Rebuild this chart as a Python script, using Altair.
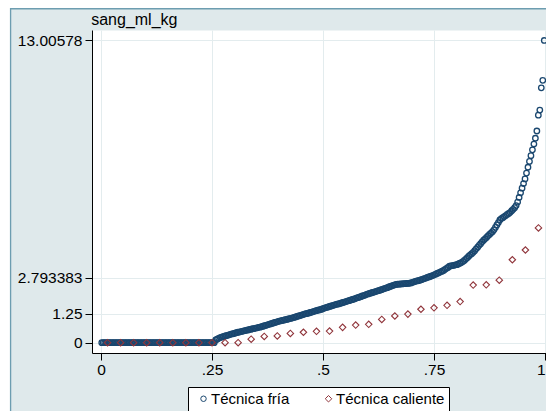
import altair as alt
import pandas as pd

# ---------------- data ----------------
grupos = ["Técnica fría", "Técnica caliente"]

# Técnica fría: 300 observations, the first 77 are zero
fria_ceros = 77
fria_valores = [
    0.12, 0.15, 0.19, 0.22, 0.24, 0.26, 0.28, 0.30, 0.32, 0.34,
    0.36, 0.38, 0.39, 0.41, 0.43, 0.45, 0.46, 0.48, 0.49, 0.51,
    0.52, 0.54, 0.55, 0.57, 0.58, 0.60, 0.61, 0.63, 0.64, 0.66,
    0.67, 0.69, 0.71, 0.73, 0.75, 0.77, 0.79, 0.81, 0.83, 0.85,
    0.87, 0.89, 0.91, 0.93, 0.94, 0.96, 0.97, 0.99, 1.00, 1.02,
    1.04, 1.05, 1.07, 1.09, 1.11, 1.13, 1.15, 1.17, 1.19, 1.21,
    1.23, 1.25, 1.26, 1.28, 1.30, 1.32, 1.34, 1.36, 1.38, 1.40,
    1.41, 1.43, 1.45, 1.48, 1.50, 1.52, 1.54, 1.56, 1.58, 1.60,
    1.62, 1.64, 1.66, 1.67, 1.69, 1.71, 1.73, 1.75, 1.77, 1.79,
    1.81, 1.83, 1.85, 1.87, 1.89, 1.92, 1.94, 1.96, 1.98, 2.01,
    2.03, 2.05, 2.08, 2.10, 2.12, 2.14, 2.16, 2.18, 2.20, 2.22,
    2.24, 2.26, 2.28, 2.31, 2.33, 2.35, 2.37, 2.40, 2.42, 2.45,
    2.47, 2.49, 2.51, 2.52, 2.52, 2.53, 2.53, 2.54, 2.54, 2.55,
    2.55, 2.56, 2.57, 2.60, 2.62, 2.64, 2.66, 2.67, 2.69, 2.71,
    2.74, 2.76, 2.78, 2.81, 2.83, 2.85, 2.88, 2.90, 2.93, 2.96,
    2.99, 3.02, 3.05, 3.08, 3.11, 3.16, 3.20, 3.24, 3.29, 3.31,
    3.32, 3.33, 3.35, 3.36, 3.39, 3.42, 3.45, 3.49, 3.54, 3.60,
    3.66, 3.72, 3.78, 3.83, 3.89, 3.96, 4.04, 4.11, 4.19, 4.26,
    4.34, 4.41, 4.47, 4.53, 4.60, 4.66, 4.72, 4.78, 4.86, 4.96,
    5.07, 5.17, 5.28, 5.34, 5.38, 5.43, 5.47, 5.52, 5.56, 5.61,
    5.68, 5.74, 5.81,
    5.90, 6.05, 6.25, 6.45, 6.65, 6.85, 7.05, 7.30, 7.55, 7.80,
    8.05, 8.30, 8.55, 8.80, 9.11, 9.79, 10.01, 10.97, 11.29, 13.00578,
]

# Técnica caliente: 34 observations, the first 11 are zero
caliente_ceros = 11
caliente_valores = [
    0.15, 0.27, 0.29, 0.40, 0.45, 0.49, 0.50, 0.66, 0.76, 0.79,
    1.00, 1.15, 1.23, 1.44, 1.50, 1.61, 1.77, 2.48, 2.49, 2.69,
    3.57, 3.99, 4.94,
]

y_ticks = [0, 1.25, 2.793383, 13.00578]
x_ticks = [0, 0.25, 0.5, 0.75, 1]
y_titulo = "sang_ml_kg"

# ---------------- styling ----------------
FONT = "Liberation Sans"
NAVY = "#1a476f"
MAROON = "#90353b"
BG = "#dfe9eb"
GRID = "#e3ecee"
BORDER = "#6d9db0"

df_fria = pd.DataFrame({"valor": [0.0] * fria_ceros + fria_valores, "grupo": grupos[0]})
df_cal = pd.DataFrame({"valor": [0.0] * caliente_ceros + caliente_valores, "grupo": grupos[1]})

x_scale = alt.Scale(domain=[-0.0203, 1.00225], nice=False, zero=False)
y_scale = alt.Scale(domain=[-0.443, 13.457], nice=False, zero=False)

x_axis = alt.Axis(
    values=x_ticks, title=None,
    labelExpr="datum.value == 0 ? '0' : datum.value == 1 ? '1' : substring(format(datum.value, '.2~f'), 1)",
    grid=True, gridColor=GRID, gridWidth=1,
    domainColor="black", domainWidth=1,
    tickColor="black", tickSize=7, tickWidth=1,
    labelPadding=2, labelFontSize=15.5, labelFont=FONT, labelColor="black",
    labelFlush=2, labelOverlap=False,
)
y_axis = alt.Axis(
    values=y_ticks, format=".7~g",
    grid=True, gridColor=GRID, gridWidth=1,
    domainColor="black", domainWidth=1,
    tickColor="black", tickSize=7, tickWidth=1,
    labelPadding=3, labelFontSize=15.5, labelFont=FONT, labelColor="black",
    labelFlush=False, labelOverlap=False,
    title=y_titulo, titleAngle=0, titleAlign="left", titleBaseline="alphabetic",
    titleX=-1.3, titleY=-5.5, titleFont=FONT, titleFontSize=16,
    titleFontWeight="normal", titleColor="black",
)
legend = alt.Legend(
    title=None, orient="none", legendX=96, legendY=357, direction="horizontal",
    fillColor="white", strokeColor="black", padding=4,
    labelFontSize=15, labelFont=FONT, labelColor="black",
    labelExpr="datum.label == 'Técnica caliente' ? datum.label + '\u00a0\u00a0\u00a0' : datum.label",
    symbolStrokeWidth=1, labelOffset=0, columnPadding=27, symbolOffset=4,
)

color_enc = alt.Color("grupo:N", scale=alt.Scale(domain=grupos, range=[NAVY, MAROON]), legend=legend)
shape_enc = alt.Shape("grupo:N", scale=alt.Scale(domain=grupos, range=["circle", "diamond"]), legend=legend)
size_enc = alt.Size("grupo:N", scale=alt.Scale(domain=grupos, range=[30, 42]), legend=legend)


def quantile_layer(df, sw):
    return (
        alt.Chart(df)
        .transform_joinaggregate(n="count()")
        .transform_window(rank="row_number()", sort=[alt.SortField("valor", order="ascending")])
        .transform_calculate(q="(datum.rank - 0.5) / datum.n")
        .mark_point(filled=False, strokeWidth=sw, opacity=1)
        .encode(
            x=alt.X("q:Q", scale=x_scale, axis=x_axis),
            y=alt.Y("valor:Q", scale=y_scale, axis=y_axis),
            color=color_enc,
            shape=shape_enc,
            size=size_enc,
        )
    )


deco = pd.DataFrame({"d": [0]})
border = alt.Chart(deco).mark_rect(fill="transparent", stroke=BORDER, strokeWidth=1.5).encode(
    x=alt.value(-81.5), x2=alt.value(600), y=alt.value(-21.25), y2=alt.value(500)
)
strip = alt.Chart(deco).mark_rect(fill="white").encode(
    x=alt.value(-84), x2=alt.value(-82.2), y=alt.value(-22), y2=alt.value(420)
)

chart = (
    alt.layer(border, strip, quantile_layer(df_fria, 1.3), quantile_layer(df_cal, 1.1))
    .properties(
        width=454, height=323,
        padding={"left": 84, "top": 22, "right": 0, "bottom": 58},
        autosize=alt.AutoSizeParams(type="none"),
        background=BG,
    )
    .configure_view(fill="white", stroke="transparent")
)

chart.save("out.html", embed_options={"renderer": "svg", "actions": False})
